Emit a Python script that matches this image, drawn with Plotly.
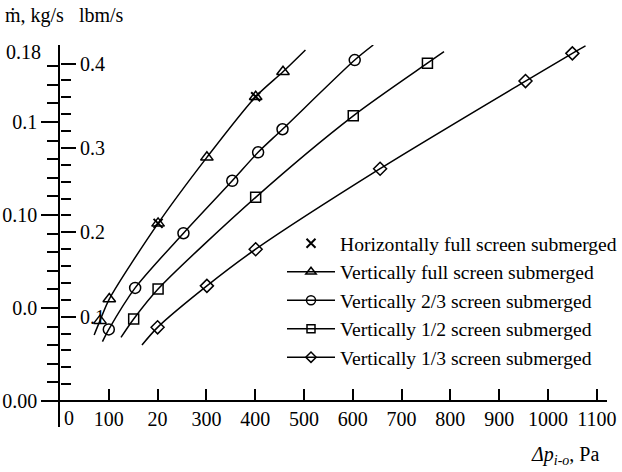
import plotly.graph_objects as go

KG_TO_LBM = 2.20462

# Horizontally full screen submerged (x markers)
h_full_dp = [201, 401]
h_full_m = [0.0955, 0.1636]

# Vertically full screen submerged
v_full_dp = [82, 101, 201, 301, 401, 457]
v_full_m = [0.0432, 0.0548, 0.0955, 0.1310, 0.1636, 0.1770]
v_full_curve_dp = [70, 503]
v_full_curve_m = [0.0355, 0.1887]

# Vertically 2/3 screen submerged
v23_dp = [100, 154, 253, 353, 406, 456, 604]
v23_m = [0.0385, 0.0608, 0.0902, 0.1184, 0.1337, 0.1461, 0.1833]
v23_curve_dp = [87, 642]
v23_curve_m = [0.0319, 0.1914]

# Vertically 1/2 screen submerged
v12_dp = [151, 201, 401, 601, 753]
v12_m = [0.0441, 0.0602, 0.1095, 0.1533, 0.1816]
v12_curve_dp = [125, 787]
v12_curve_m = [0.0342, 0.1878]

# Vertically 1/3 screen submerged
v13_dp = [200, 301, 401, 656, 954, 1050]
v13_m = [0.0396, 0.0619, 0.0816, 0.1249, 0.1720, 0.1869]
v13_curve_dp = [168, 1077]
v13_curve_m = [0.0301, 0.1909]

# Tick definitions
x_tickvals = [100, 200, 300, 400, 500, 600, 700, 800, 900, 1000, 1100]
x_ticktext = ["100", "20", "300", "400", "500", "600", "700", "800", "900", "1000", "1100"]
y_kg_tickvals = [0.0, 0.05, 0.10, 0.15]
y_kg_ticktext = ["0.00", "0.0", "0.10", "0.1"]
y_kg_minor = [0.01, 0.02, 0.03, 0.04, 0.06, 0.07, 0.08, 0.09, 0.11, 0.12, 0.13, 0.14,
              0.16, 0.17, 0.18]
y_lbm_tickvals = [0.1, 0.2, 0.3, 0.4]
y_lbm_ticktext = ["0.1", "0.2", "0.3", "0.4"]
y_lbm_minor = [0.02, 0.04, 0.06, 0.08, 0.12, 0.14, 0.16, 0.18, 0.22, 0.24, 0.26, 0.28,
               0.32, 0.34, 0.36, 0.38]

FONT = "Liberation Serif"
FS = 20
BLACK = "black"

series = [
    ("Vertically full screen submerged", v_full_dp, v_full_m, v_full_curve_dp, v_full_curve_m,
     "triangle-up-open", 11),
    ("Vertically 2/3 screen submerged", v23_dp, v23_m, v23_curve_dp, v23_curve_m,
     "circle-open", 11),
    ("Vertically 1/2 screen submerged", v12_dp, v12_m, v12_curve_dp, v12_curve_m,
     "square-open", 10),
    ("Vertically 1/3 screen submerged", v13_dp, v13_m, v13_curve_dp, v13_curve_m,
     "diamond-open", 10),
]

fig = go.Figure()

fig.add_trace(go.Scatter(
    x=h_full_dp, y=h_full_m, mode="markers", name="Horizontally full screen submerged",
    marker=dict(symbol="x-thin", size=9, color=BLACK, line=dict(color=BLACK, width=2)),
    legendgroup="h", showlegend=True))

for name, dp, m, cdp, cm, sym, sz in series:
    xs = [cdp[0]] + dp + [cdp[1]]
    ys = [cm[0]] + m + [cm[1]]
    fig.add_trace(go.Scatter(
        x=xs, y=ys, mode="lines", line=dict(color=BLACK, width=1.5, shape="spline", smoothing=0.8),
        showlegend=False, legendgroup=name, hoverinfo="skip"))
    fig.add_trace(go.Scatter(
        x=dp, y=m, mode="markers",
        marker=dict(symbol=sym, size=sz, color=BLACK, line=dict(color=BLACK, width=1.5)),
        showlegend=False, legendgroup=name))
    fig.add_trace(go.Scatter(
        x=[None], y=[None], mode="lines+markers", name=name,
        line=dict(color=BLACK, width=1.5),
        marker=dict(symbol=sym, size=sz - 2, color=BLACK, line=dict(color=BLACK, width=1.5)),
        legendgroup=name, showlegend=True))

# plot-area geometry (pixels)
L, R, T, B = 60, 607, 45, 427
W, H = 622, 472
PX_PER_KG = 1860.0
zero_px = 401
y_lo = -(B - zero_px) / PX_PER_KG
y_hi = (zero_px - T) / PX_PER_KG
x_hi = 1121

tf = dict(family=FONT, size=FS, color=BLACK)

fig.update_layout(
    width=W, height=H,
    margin=dict(l=L, r=W - R, t=T, b=H - B, pad=0, autoexpand=False),
    paper_bgcolor="white", plot_bgcolor="white",
    font=tf,
    xaxis=dict(
        range=[0, x_hi], domain=[0, 1], anchor="free", position=(B - zero_px) / (B - T),
        automargin=False,
        showline=True, linecolor=BLACK, linewidth=1.5, showgrid=False, zeroline=False,
        ticks="inside", ticklen=11, tickwidth=1.5, tickcolor=BLACK,
        tickmode="array", tickvals=x_tickvals, ticktext=x_ticktext, tickfont=tf),
    yaxis=dict(
        range=[y_lo, y_hi], automargin=False, showline=True, linecolor=BLACK, linewidth=1.5,
        showgrid=False, zeroline=False,
        ticks="outside", ticklen=17, tickwidth=1.5, tickcolor=BLACK,
        tickmode="array", tickvals=y_kg_tickvals, ticktext=y_kg_ticktext, tickfont=tf,
        minor=dict(tickmode="array", tickvals=y_kg_minor, ticks="outside", ticklen=11,
                   tickwidth=1.5, tickcolor=BLACK)),
    yaxis2=dict(
        range=[y_lo * KG_TO_LBM, y_hi * KG_TO_LBM], overlaying="y", anchor="free", position=0,
        automargin=False,
        side="right", showline=False, showgrid=False, zeroline=False,
        ticks="outside", ticklen=15, tickwidth=1.5, tickcolor=BLACK,
        tickmode="array", tickvals=y_lbm_tickvals, ticktext=y_lbm_ticktext, tickfont=tf,
        minor=dict(tickmode="array", tickvals=y_lbm_minor, ticks="outside", ticklen=10,
                   tickwidth=1.5, tickcolor=BLACK)),
    legend=dict(
        x=(282 - L) / (R - L), y=(B - 224) / (B - T), xanchor="left", yanchor="top",
        bgcolor="rgba(0,0,0,0)", borderwidth=0,
        font=dict(family=FONT, size=19.6, color=BLACK),
        tracegroupgap=0, itemwidth=48),
    showlegend=True,
)

fig.add_trace(go.Scatter(x=[None], y=[None], yaxis="y2", showlegend=False, hoverinfo="skip"))

fig.add_annotation(text="ṁ, kg/s   lbm/s", xref="paper", yref="paper",
                   x=(3 - L) / (R - L), y=(B - 16) / (B - T), xanchor="left", yanchor="middle",
                   showarrow=False, font=tf)
fig.add_annotation(text="0.18", xref="paper", yref="y",
                   x=-17 / (R - L), y=(zero_px - 52) / PX_PER_KG, xanchor="right", yanchor="middle",
                   showarrow=False, font=tf)
fig.add_annotation(text="0", xref="x", yref="y", x=0, y=-17 / PX_PER_KG, xanchor="left",
                   yanchor="middle", xshift=2, showarrow=False, font=tf)
fig.add_annotation(text="<i>Δp<sub>i-o</sub></i>, Pa", xref="paper", yref="paper",
                   x=(601 - L) / (R - L), y=(B - 455) / (B - T), xanchor="right", yanchor="middle",
                   showarrow=False, font=tf)

fig.write_html("out.html", config={"displayModeBar": False},
               post_script="document.body.style.margin='0px';")
